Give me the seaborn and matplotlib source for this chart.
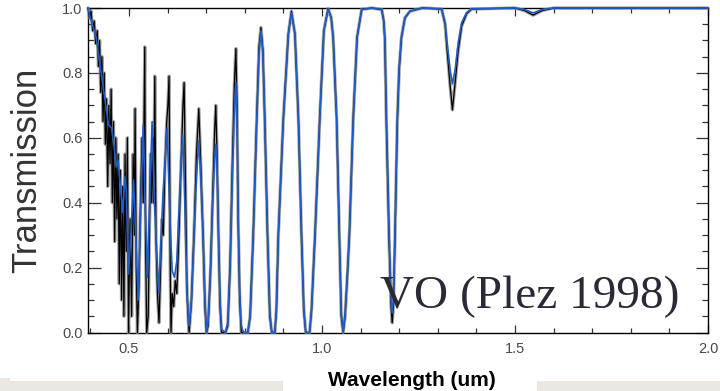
import numpy as np
import pandas as pd
import matplotlib
matplotlib.use("Agg")
import matplotlib.pyplot as plt
from matplotlib.patches import Rectangle
from matplotlib.ticker import MultipleLocator
import seaborn as sns

# ---- data ----
blue_wl = [0.394, 0.400, 0.415, 0.427, 0.440, 0.447, 0.455, 0.462, 0.467, 0.472,
           0.478, 0.484, 0.489, 0.493, 0.499, 0.506, 0.512, 0.517, 0.524, 0.530,
           0.537, 0.542, 0.548, 0.554, 0.560, 0.566, 0.577, 0.588, 0.599, 0.606,
           0.612, 0.618, 0.624, 0.630, 0.635, 0.639, 0.643, 0.647, 0.651, 0.656,
           0.662, 0.669, 0.675, 0.681, 0.686, 0.692, 0.697, 0.701, 0.705, 0.711,
           0.717, 0.722, 0.725, 0.728, 0.732, 0.736, 0.740, 0.750, 0.756, 0.762,
           0.768, 0.773, 0.777, 0.780, 0.783, 0.787, 0.791, 0.797, 0.808, 0.814,
           0.822, 0.831, 0.837, 0.842, 0.847, 0.852, 0.859, 0.865, 0.870, 0.878,
           0.882, 0.887, 0.900, 0.913, 0.921, 0.930, 0.939, 0.947, 0.953, 0.958,
           0.968, 0.973, 0.982, 0.995, 1.005, 1.016, 1.024, 1.029, 1.038, 1.045,
           1.050, 1.055, 1.060, 1.066, 1.071, 1.081, 1.091, 1.103, 1.130, 1.155,
           1.160, 1.163, 1.167, 1.174, 1.179, 1.182, 1.185, 1.189, 1.195, 1.200,
           1.206, 1.215, 1.228, 1.260, 1.310, 1.319, 1.325, 1.332, 1.338, 1.345,
           1.353, 1.362, 1.375, 1.388, 1.500, 1.525, 1.547, 1.570, 1.600, 2.000]
blue_tr = [1.00, 0.97, 0.91, 0.81, 0.70, 0.64, 0.63, 0.57, 0.51, 0.53,
           0.45, 0.37, 0.48, 0.44, 0.18, 0.32, 0.47, 0.32, 0.10, 0.36,
           0.64, 0.40, 0.17, 0.42, 0.65, 0.40, 0.12, 0.42, 0.63, 0.36,
           0.19, 0.17, 0.22, 0.38, 0.52, 0.61, 0.48, 0.28, 0.10, 0.02,
           0.10, 0.30, 0.48, 0.59, 0.48, 0.30, 0.10, 0.00, 0.03, 0.18,
           0.40, 0.54, 0.58, 0.52, 0.30, 0.10, 0.01, 0.00, 0.03, 0.20,
           0.48, 0.68, 0.77, 0.65, 0.35, 0.12, 0.02, 0.00, 0.00, 0.05,
           0.30, 0.65, 0.86, 0.93, 0.86, 0.65, 0.30, 0.06, 0.00, 0.00,
           0.07, 0.30, 0.66, 0.92, 0.985, 0.92, 0.66, 0.30, 0.07, 0.00,
           0.00, 0.07, 0.30, 0.68, 0.93, 0.997, 0.97, 0.91, 0.66, 0.30,
           0.06, 0.00, 0.06, 0.18, 0.30, 0.66, 0.91, 0.995, 1.00, 0.995,
           0.96, 0.91, 0.66, 0.30, 0.10, 0.06, 0.10, 0.30, 0.66, 0.82,
           0.91, 0.97, 0.99, 1.00, 0.997, 0.955, 0.883, 0.81, 0.766, 0.81,
           0.893, 0.955, 0.986, 0.997, 1.00, 0.995, 0.985, 0.995, 1.00, 1.00]

black_wl = [0.394, 0.398, 0.402, 0.406, 0.410, 0.414, 0.418, 0.421, 0.424, 0.427,
            0.430, 0.433, 0.436, 0.439, 0.442, 0.445, 0.448, 0.451, 0.454, 0.457,
            0.460, 0.463, 0.466, 0.469, 0.472, 0.475, 0.478, 0.481, 0.484, 0.487,
            0.490, 0.493, 0.496, 0.499, 0.503, 0.507, 0.511, 0.514, 0.516, 0.519,
            0.522, 0.526, 0.530, 0.534, 0.537, 0.541, 0.543, 0.546, 0.550, 0.553,
            0.556, 0.559, 0.562, 0.564, 0.567, 0.570, 0.574, 0.578, 0.582, 0.586,
            0.589, 0.593, 0.598, 0.601, 0.604, 0.607, 0.609, 0.612, 0.616, 0.620,
            0.624, 0.628, 0.632, 0.636, 0.640, 0.643, 0.646, 0.650, 0.654, 0.656,
            0.662, 0.669, 0.675, 0.681, 0.686, 0.692, 0.697, 0.701, 0.705, 0.711,
            0.717, 0.722, 0.725, 0.728, 0.732, 0.736, 0.740, 0.750, 0.756, 0.762,
            0.768, 0.773, 0.777, 0.780, 0.783, 0.787, 0.791, 0.797, 0.808, 0.814,
            0.822, 0.831, 0.837, 0.842, 0.847, 0.852, 0.859, 0.865, 0.870, 0.878,
            0.882, 0.887, 0.900, 0.913, 0.921, 0.930, 0.939, 0.947, 0.953, 0.958,
            0.968, 0.973, 0.982, 0.995, 1.005, 1.016, 1.024, 1.029, 1.038, 1.045,
            1.050, 1.055, 1.060, 1.066, 1.071, 1.081, 1.091, 1.103, 1.130, 1.155,
            1.160, 1.163, 1.167, 1.174, 1.179, 1.182, 1.185, 1.189, 1.195, 1.200,
            1.206, 1.215, 1.228, 1.260, 1.310, 1.319, 1.325, 1.332, 1.338, 1.345,
            1.353, 1.362, 1.375, 1.388, 1.500, 1.525, 1.547, 1.570, 1.600, 2.000]
black_tr = [1.00, 0.97, 0.99, 0.93, 0.96, 0.89, 0.93, 0.82, 0.90, 0.74,
            0.85, 0.65, 0.80, 0.58, 0.72, 0.45, 0.70, 0.52, 0.75, 0.40,
            0.65, 0.28, 0.60, 0.35, 0.55, 0.15, 0.50, 0.10, 0.45, 0.05,
            0.55, 0.25, 0.60, 0.00, 0.35, 0.05, 0.55, 0.30, 0.69, 0.20,
            0.00, 0.15, 0.40, 0.60, 0.40, 0.88, 0.30, 0.00, 0.05, 0.30,
            0.55, 0.40, 0.60, 0.40, 0.79, 0.30, 0.12, 0.03, 0.20, 0.35,
            0.30, 0.50, 0.65, 0.70, 0.79, 0.20, 0.00, 0.12, 0.08, 0.16,
            0.12, 0.25, 0.40, 0.55, 0.70, 0.77, 0.50, 0.15, 0.03, 0.00,
            0.10, 0.32, 0.55, 0.69, 0.52, 0.30, 0.08, 0.00, 0.02, 0.18,
            0.42, 0.62, 0.70, 0.56, 0.30, 0.08, 0.00, 0.00, 0.02, 0.20,
            0.52, 0.76, 0.875, 0.70, 0.35, 0.10, 0.00, 0.00, 0.00, 0.05,
            0.30, 0.66, 0.88, 0.94, 0.87, 0.65, 0.30, 0.05, 0.00, 0.00,
            0.07, 0.30, 0.66, 0.92, 0.99, 0.92, 0.66, 0.30, 0.07, 0.00,
            0.00, 0.07, 0.30, 0.68, 0.93, 0.998, 0.97, 0.91, 0.66, 0.30,
            0.05, 0.00, 0.05, 0.18, 0.30, 0.66, 0.91, 0.996, 1.00, 0.995,
            0.96, 0.90, 0.64, 0.28, 0.08, 0.03, 0.08, 0.28, 0.64, 0.81,
            0.91, 0.97, 0.99, 1.00, 0.997, 0.95, 0.86, 0.76, 0.686, 0.77,
            0.87, 0.945, 0.983, 0.997, 1.00, 0.992, 0.978, 0.992, 1.00, 1.00]

x_ticks = [0.5, 1.0, 1.5, 2.0]
y_ticks = [0.0, 0.2, 0.4, 0.6, 0.8, 1.0]

blue_df = pd.DataFrame({"wl": blue_wl, "tr": blue_tr})
black_df = pd.DataFrame({"wl": black_wl, "tr": black_tr})

sns.set_style("ticks")
plt.rcParams["font.family"] = ["Liberation Sans", "DejaVu Sans"]

fig = plt.figure(figsize=(7.2, 3.91), dpi=100)
fig.patch.set_facecolor("white")
ax = fig.add_axes([88 / 720, 1 - 332.5 / 391, 620 / 720, 324.5 / 391])

sns.lineplot(data=black_df, x="wl", y="tr", ax=ax, color="#8c8c8c", lw=2.4,
             estimator=None, sort=False, alpha=0.8, zorder=3, clip_on=False)
sns.lineplot(data=black_df, x="wl", y="tr", ax=ax, color="black", lw=0.9,
             estimator=None, sort=False, zorder=4, clip_on=False)
sns.lineplot(data=blue_df, x="wl", y="tr", ax=ax, color="#1f5cc8", lw=1.2,
             estimator=None, sort=False, zorder=5, clip_on=False)

ax.set_xlim(0.394, 2.0)
ax.set_ylim(0.0, 1.0)
ax.set_xticks(x_ticks)
ax.set_xticklabels([f"{v:.1f}" for v in x_ticks])
ax.set_yticks(y_ticks)
ax.set_yticklabels([f"{v:.1f}" for v in y_ticks])
ax.xaxis.set_minor_locator(MultipleLocator(0.1))
ax.yaxis.set_minor_locator(MultipleLocator(0.05))
ax.tick_params(axis="both", which="both", direction="in", top=True, right=True,
               colors="#333333", labelcolor="#4a4a4a", width=0.9)
ax.tick_params(axis="x", which="major", length=5.5, pad=7, labelsize=10.5)
ax.tick_params(axis="x", which="minor", length=3.3)
ax.tick_params(axis="y", which="major", length=9, pad=4, labelsize=10.5)
ax.tick_params(axis="y", which="minor", length=4.5)
for s in ax.spines.values():
    s.set_visible(True)
    s.set_color("black")
    s.set_linewidth(1.0)
ax.set_xlabel("")
ax.set_ylabel("")
ax.legend_ = None

ax.text(1.150, 0.075, "VO (Plez 1998)", fontsize=34, color="#2a2a36",
        family=["Liberation Serif", "DejaVu Serif"], ha="left", va="baseline",
        zorder=6)

fig.text(27 / 720, 1 - 170 / 391, "Transmission", rotation=90, fontsize=25,
         color="#333333", ha="center", va="center")

# light bands at the bottom of the slide
fig.patches.append(Rectangle((0, 0), 283 / 720, 10 / 391, transform=fig.transFigure,
                             facecolor="#ebe8e3", edgecolor="none", zorder=0))
fig.patches.append(Rectangle((0, 0), 10 / 720, 13 / 391, transform=fig.transFigure,
                             facecolor="#ebe8e3", edgecolor="none", zorder=0))
fig.patches.append(Rectangle((537 / 720, 0), 183 / 720, 10 / 391, transform=fig.transFigure,
                             facecolor="#ebe8e3", edgecolor="none", zorder=0))

fig.text(412 / 720, 1 - 386 / 391, "Wavelength (um)", fontsize=15, fontweight="bold",
         color="black", ha="center", va="baseline")

fig.savefig("out.png", dpi=100)
